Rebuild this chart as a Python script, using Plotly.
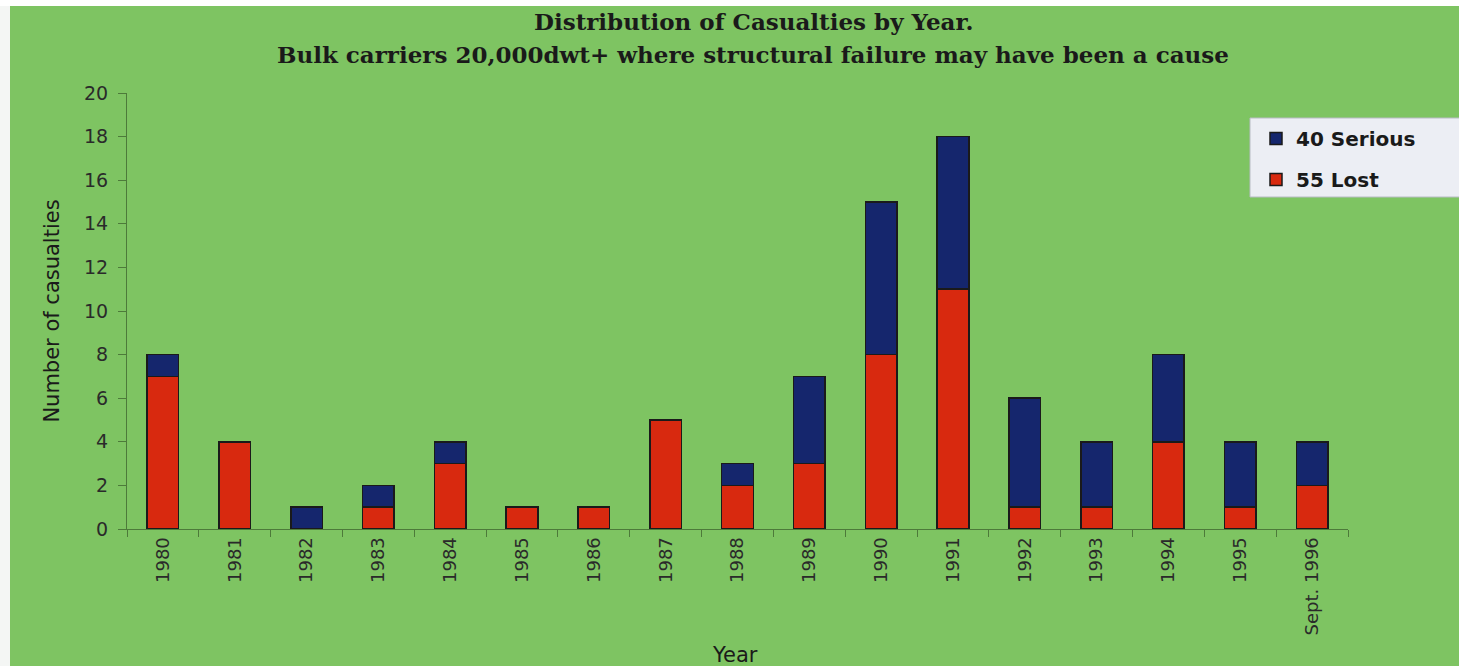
import plotly.graph_objects as go

years = ["1980", "1981", "1982", "1983", "1984", "1985", "1986", "1987", "1988",
         "1989", "1990", "1991", "1992", "1993", "1994", "1995", "Sept. 1996"]
lost = [7, 4, 0, 1, 3, 1, 1, 5, 2, 3, 8, 11, 1, 1, 4, 1, 2]
serious = [1, 0, 1, 1, 1, 0, 0, 0, 1, 4, 7, 7, 5, 3, 4, 3, 2]

title1 = "Distribution of Casualties by Year."
title2 = "Bulk carriers 20,000dwt+ where structural failure may have been a cause"

BG = "#7ec462"
AXC = "#4d7a3a"
SANS = "DejaVu Sans, Arial"

W, H = 1459, 666
l, r, t, b = 127, 111, 93, 137
pw, ph = W - l - r, H - t - b


def px_x(x):
    return (x - l) / pw


def px_y(y):
    return (H - b - y) / ph


fig = go.Figure()
fig.add_trace(go.Bar(x=years, y=lost, name="55 Lost", legendgroup="lost", legendrank=2,
                     marker=dict(color="#d8290f", line=dict(color="#1a1a1a", width=1.5))))
fig.add_trace(go.Bar(x=years, y=serious, name="40 Serious", legendgroup="serious", legendrank=1,
                     marker=dict(color="#15266d", line=dict(color="#1a1a1a", width=1.5))))

fig.update_layout(
    width=W, height=H,
    barmode="stack", bargap=0.56,
    paper_bgcolor=BG, plot_bgcolor=BG,
    margin=dict(l=l, r=r, t=t, b=b),
    showlegend=True,
    legend=dict(x=px_x(1256), y=px_y(119), xanchor="left", yanchor="top",
                traceorder="grouped",
                bgcolor="rgba(0,0,0,0)", borderwidth=0,
                font=dict(family=SANS, size=20, color="#1a1a1a", weight="bold"),
                itemwidth=30, tracegroupgap=12),
    xaxis=dict(type="category", tickangle=-90, tickson="boundaries",
               ticks="outside", ticklen=7, tickcolor=AXC,
               showline=True, linecolor=AXC, linewidth=1,
               tickfont=dict(family=SANS, size=18, color="#2a2a2a"),
               showgrid=False),
    yaxis=dict(range=[0, 20], dtick=2, ticks="outside", ticklen=8, tickcolor=AXC,
               showline=True, linecolor=AXC, linewidth=1, ticklabelstandoff=6,
               tickfont=dict(family=SANS, size=19, color="#2a2a2a"),
               title=dict(text="Number of casualties", standoff=18,
                          font=dict(family=SANS, size=21, color="#1a1a1a")),
               showgrid=False, zeroline=False),
)

anns = []
for text, ypx in [(title1, 21), (title2, 55)]:
    anns.append(dict(text="<b>" + text + "</b>", xref="paper", yref="paper",
                     x=px_x(753), y=px_y(ypx), xanchor="center", yanchor="middle",
                     showarrow=False,
                     font=dict(family="DejaVu Serif, Liberation Serif", size=23, color="#1a1a1a")))
anns.append(dict(text="Year", xref="paper", yref="paper", x=px_x(735), y=px_y(655),
                 xanchor="center", yanchor="middle", showarrow=False,
                 font=dict(family=SANS, size=21, color="#1a1a1a")))
fig.update_layout(annotations=anns)

fig.update_layout(shapes=[
    # legend box (runs off the right edge as in the picture)
    dict(type="rect", xref="paper", yref="paper", x0=px_x(1250), x1=px_x(1470),
         y0=px_y(197), y1=px_y(118), fillcolor="#eceef4",
         line=dict(color="#b8bcc4", width=1), layer="below"),
    # white border strips of the scanned picture
    dict(type="rect", xref="paper", yref="paper", x0=px_x(0), x1=px_x(10),
         y0=px_y(H), y1=px_y(0), fillcolor="#f4f6f4", line=dict(width=0), layer="above"),
    dict(type="rect", xref="paper", yref="paper", x0=px_x(0), x1=px_x(W),
         y0=px_y(6), y1=px_y(0), fillcolor="#ffffff", line=dict(width=0), layer="above"),
])

fig.write_html("out.html")
